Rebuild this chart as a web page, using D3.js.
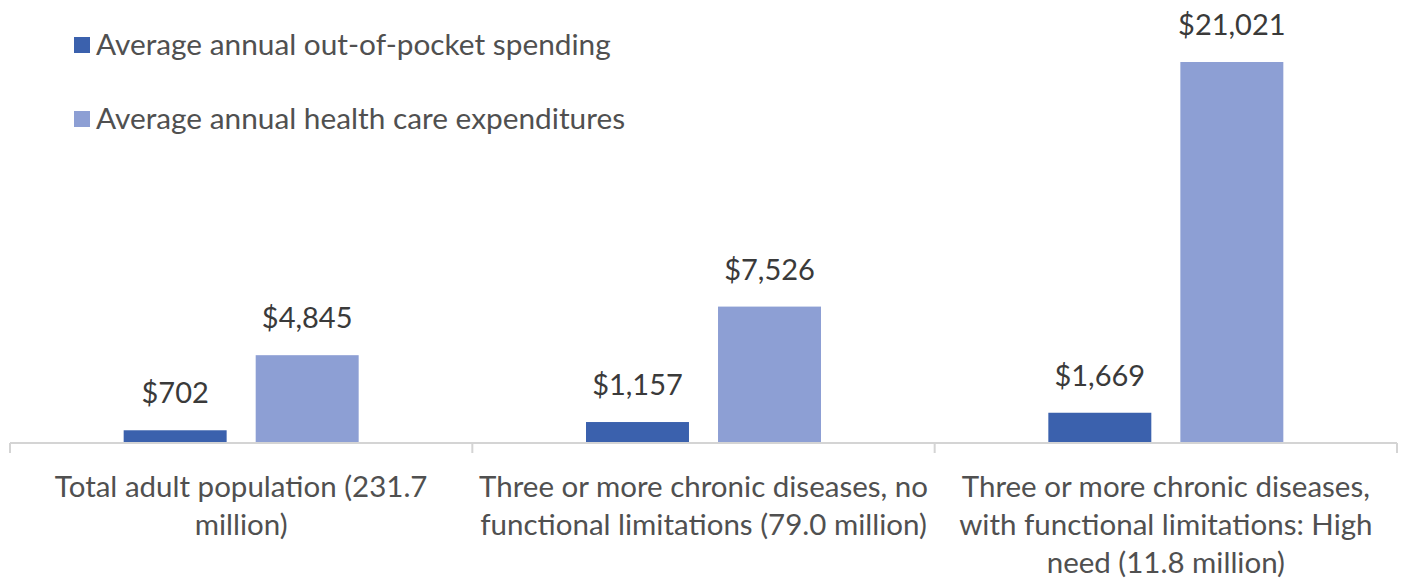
<!DOCTYPE html>
<html>
<head>
<meta charset="utf-8">
<script src="https://cdn.jsdelivr.net/npm/d3@7"></script>
<style>
  html, body { margin: 0; padding: 0; background: #fff; }
  svg { display: block; font-family: Lato, "Open Sans", sans-serif; }
</style>
</head>
<body>
<svg id="chart" width="1403" height="579"></svg>
<script>
// Health care spending by population group
const categories = [
  ["Total adult population (231.7", "million)"],
  ["Three or more chronic diseases, no", "functional limitations (79.0 million)"],
  ["Three or more chronic diseases,", "with functional limitations: High", "need (11.8 million)"]
];
const seriesNames = [
  "Average annual out-of-pocket spending",
  "Average annual health care expenditures"
];
const outOfPocket = [702, 1157, 1669];
const totalExpenditures = [4845, 7526, 21021];
const colors = ["#3b61ad", "#8d9fd4"];

const svg = d3.select("#chart");
const axisY = 443;
const left = 10, right = 1397;

const x0 = d3.scaleBand().domain(d3.range(categories.length)).range([left, right]).paddingInner(0).paddingOuter(0);
const x1 = d3.scaleBand().domain([0, 1]).range([0, 235]).paddingInner(0.22);
const groupOffset = (x0.bandwidth() - 235) / 2;
const y = d3.scaleLinear().domain([0, 21021]).range([axisY, 62]);

const fmt = v => "$" + d3.format(",")(v);
const seriesValues = [outOfPocket, totalExpenditures];

// bars and value labels
seriesValues.forEach((vals, s) => {
  const g = svg.append("g");
  g.selectAll("rect").data(vals).join("rect")
    .attr("x", (d, i) => x0(i) + groupOffset + x1(s))
    .attr("width", x1.bandwidth())
    .attr("y", d => y(d))
    .attr("height", d => axisY - y(d))
    .attr("fill", colors[s]);
  g.selectAll("text").data(vals).join("text")
    .attr("x", (d, i) => x0(i) + groupOffset + x1(s) + x1.bandwidth() / 2)
    .attr("y", d => y(d) - 27)
    .attr("text-anchor", "middle")
    .attr("font-size", 29)
    .attr("fill", "#3a3a3a")
    .text(fmt);
});

// category axis
const axis = svg.append("g").attr("transform", `translate(0,${axisY})`);
axis.append("line").attr("x1", left).attr("x2", right).attr("y1", 0).attr("y2", 0)
  .attr("stroke", "#d4d4d4").attr("stroke-width", 2);
const tickPos = d3.range(categories.length + 1).map(i => left + i * x0.step());
axis.selectAll("line.tick").data(tickPos).join("line").attr("class", "tick")
  .attr("x1", d => d).attr("x2", d => d).attr("y1", 0).attr("y2", 10)
  .attr("stroke", "#d4d4d4").attr("stroke-width", 2);

categories.forEach((lines, i) => {
  const t = svg.append("text")
    .attr("text-anchor", "middle")
    .attr("font-size", 29.5)
    .attr("fill", "#505050");
  lines.forEach((ln, k) => {
    t.append("tspan")
      .attr("x", x0(i) + x0.bandwidth() / 2)
      .attr("y", 497 + k * 38)
      .text(ln);
  });
});

// legend
const legend = svg.append("g");
seriesNames.forEach((name, s) => {
  const cy = 45 + s * 74;
  legend.append("rect").attr("x", 74).attr("y", cy - 8).attr("width", 16).attr("height", 16).attr("fill", colors[s]);
  legend.append("text").attr("x", 96).attr("y", cy + 10).attr("font-size", 29.8).attr("fill", "#505050").text(name);
});
</script>
</body>
</html>
